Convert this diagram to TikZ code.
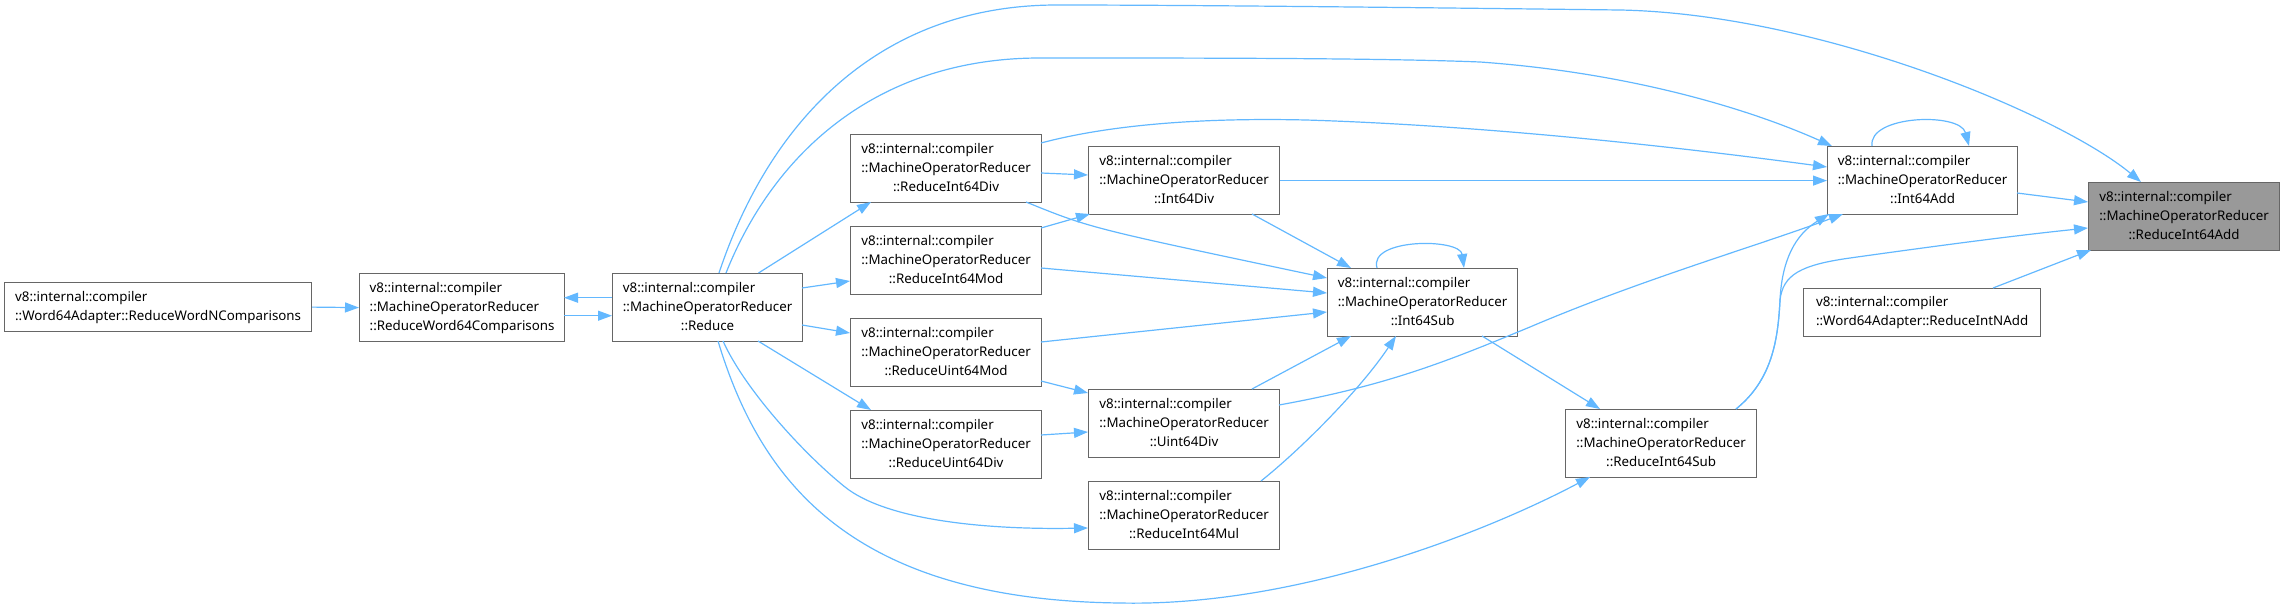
\documentclass[tikz,border=0pt]{standalone}
\usepackage{fontspec}
\setmainfont{Noto Sans}
\usetikzlibrary{arrows.meta,calc}
\definecolor{edgec}{HTML}{63B8FF}
\definecolor{boxc}{HTML}{666666}
\definecolor{hlc}{HTML}{999999}
\newcommand\nf{\fontsize{13.33}{19}\selectfont}
\newcommand\tri[3]{\begin{tabular}{@{}l@{}}#1\\#2\\\multicolumn{1}{@{}c@{}}{#3}\end{tabular}}
\newcommand\duo[2]{\begin{tabular}{@{}l@{}}#1\\#2\end{tabular}}
\begin{document}
\begin{tikzpicture}[x=1pt,y=-1pt,
  fn/.style={draw=boxc, fill=white, line width=1.2pt, inner sep=0pt, anchor=north west, font=\nf, minimum width=191pt, minimum height=68pt},
  ed/.style={draw=edgec, line width=1.2pt, -{Triangle[length=14pt,width=10pt]}}]
\useasboundingbox (0,0) rectangle (2284,607);
% nodes
\node[fn, minimum width=307pt, minimum height=49pt] (wordn) at (4,282) {\duo{v8::internal::compiler}{::Word64Adapter::ReduceWordNComparisons}};
\node[fn, minimum width=205pt] (rw64c) at (359,273) {\tri{v8::internal::compiler}{::MachineOperatorReducer}{::ReduceWord64Comparisons}};
\node[fn, minimum width=190pt] (reduce) at (612,273) {\tri{v8::internal::compiler}{::MachineOperatorReducer}{::Reduce}};
\node[fn] (ri64div) at (850,134) {\tri{v8::internal::compiler}{::MachineOperatorReducer}{::ReduceInt64Div}};
\node[fn] (ri64mod) at (850,226) {\tri{v8::internal::compiler}{::MachineOperatorReducer}{::ReduceInt64Mod}};
\node[fn] (rumod) at (850,318) {\tri{v8::internal::compiler}{::MachineOperatorReducer}{::ReduceUint64Mod}};
\node[fn] (rudiv) at (850,410) {\tri{v8::internal::compiler}{::MachineOperatorReducer}{::ReduceUint64Div}};
\node[fn] (int64div) at (1088,146) {\tri{v8::internal::compiler}{::MachineOperatorReducer}{::Int64Div}};
\node[fn] (uint64div) at (1088,389) {\tri{v8::internal::compiler}{::MachineOperatorReducer}{::Uint64Div}};
\node[fn] (ri64mul) at (1088,481) {\tri{v8::internal::compiler}{::MachineOperatorReducer}{::ReduceInt64Mul}};
\node[fn, minimum width=190pt] (int64sub) at (1327,268) {\tri{v8::internal::compiler}{::MachineOperatorReducer}{::Int64Sub}};
\node[fn] (ri64sub) at (1565,409) {\tri{v8::internal::compiler}{::MachineOperatorReducer}{::ReduceInt64Sub}};
\node[fn, minimum width=190pt] (int64add) at (1827,146) {\tri{v8::internal::compiler}{::MachineOperatorReducer}{::Int64Add}};
\node[fn, minimum width=237pt, minimum height=48pt] (wordnadd) at (1803,288) {\duo{v8::internal::compiler}{::Word64Adapter::ReduceIntNAdd}};
\node[fn, fill=hlc] (ri64add) at (2088,182) {\tri{v8::internal::compiler}{::MachineOperatorReducer}{::ReduceInt64Add}};
% edges
\draw[ed] (wordn.east) -- (rw64c.west);
\draw[ed] ($(reduce.north west)+(0,24.7)$) -- ($(rw64c.north west)+(205,24.7)$);
\draw[ed] ($(rw64c.north west)+(205,42.7)$) -- ($(reduce.north west)+(0,42.7)$);
\draw[ed] ($(reduce.north west)+(146.5,0)$) -- ($(ri64div.north west)+(21,68)$);
\draw[ed] ($(reduce.north west)+(190,15)$) -- ($(ri64mod.north west)+(0,55)$);
\draw[ed] ($(reduce.north west)+(190,52)$) -- ($(rumod.north west)+(0,15)$);
\draw[ed] ($(reduce.north west)+(146,68)$) -- ($(rudiv.north west)+(21,0)$);
\draw[ed] ($(ri64div.north west)+(191,39)$) -- ($(int64div.north west)+(0,29)$);
\draw[ed] ($(ri64mod.north west)+(191,2)$) -- ($(int64div.north west)+(2,68)$);
\draw[ed] ($(rumod.north west)+(191,63)$) -- ($(uint64div.north west)+(0,4)$);
\draw[ed] ($(rudiv.north west)+(191,25)$) -- ($(uint64div.north west)+(0,43)$);
\draw[ed] ($(reduce.north west)+(111,68)$) .. controls (745,390) and (805,455) .. (845,487)
   .. controls (885,519) and (980,530) .. ($(ri64mul.north west)+(0,47)$);
\draw[ed] ($(reduce.north west)+(106,68)$) .. controls (760,480) and (850,600) .. (1120,603)
   .. controls (1300,607) and (1490,530) .. ($(ri64sub.north west)+(25,68)$);
\draw[ed] ($(reduce.north west)+(114,0)$) .. controls (775,150) and (880,58) .. (1040,58)
   .. controls (1200,58) and (1380,58) .. (1480,62)
   .. controls (1620,72) and (1740,105) .. ($(int64add.north west)+(5,0)$);
\draw[ed] ($(reduce.north west)+(107,0)$) .. controls (770,120) and (880,5) .. (1057,5)
   .. controls (1200,5) and (1450,8) .. (1620,10)
   .. controls (1820,14) and (2060,115) .. ($(ri64add.north west)+(53,0)$);
\draw[ed] ($(ri64div.north west)+(191,9)$) .. controls (1120,122) and (1220,118) .. (1306,120)
   .. controls (1500,126) and (1700,150) .. ($(int64add.north west)+(0,21)$);
\draw[ed] (int64div.east) -- (int64add.west);
\draw[ed] ($(int64add.north west)+(45,0)$) .. controls (1868,115) and (1960,112) .. ($(int64add.north west)+(142,0)$);
\draw[ed] ($(int64add.north west)+(190,47)$) -- ($(ri64add.north west)+(0,20)$);
\draw[ed] ($(uint64div.north west)+(191,16)$) .. controls (1390,385) and (1450,360) .. (1530,327)
   .. controls (1640,280) and (1760,245) .. ($(int64add.north west)+(16,68)$);
\draw[ed] ($(int64sub.north west)+(50,0)$) .. controls (1368,238) and (1460,238) .. ($(int64sub.north west)+(137,0)$);
\draw[ed] ($(int64sub.north west)+(155,68)$) -- ($(ri64sub.north west)+(35,0)$);
\draw[ed] ($(int64div.north west)+(164,68)$) -- ($(int64sub.north west)+(24,0)$);
\draw[ed] ($(ri64div.north west)+(176,68)$) .. controls (1090,228) .. ($(int64sub.north west)+(0,10)$);
\draw[ed] ($(ri64mod.north west)+(191,42)$) -- ($(int64sub.north west)+(0,25)$);
\draw[ed] ($(rumod.north west)+(191,24)$) -- ($(int64sub.north west)+(0,44)$);
\draw[ed] ($(uint64div.north west)+(164,0)$) -- ($(int64sub.north west)+(24,68)$);
\draw[ed] ($(ri64mul.north west)+(173,0)$) .. controls (1300,450) and (1360,390) .. ($(int64sub.north west)+(69,68)$);
\draw[ed] ($(ri64sub.north west)+(171,0)$) .. controls (1772,380) and (1778,340) .. (1780,300)
   .. controls (1782,260) and (1795,235) .. ($(int64add.north west)+(2,68)$);
\draw[ed] ($(ri64sub.north west)+(171,0)$) .. controls (1772,380) and (1778,340) .. (1780,300)
   .. controls (1783,275) and (1800,265) .. (1850,258)
   .. controls (1950,244) and (2020,235) .. ($(ri64add.north west)+(0,46)$);
\draw[ed] ($(wordnadd.north west)+(190,0)$) -- ($(ri64add.north west)+(3,68)$);
\end{tikzpicture}
\end{document}
